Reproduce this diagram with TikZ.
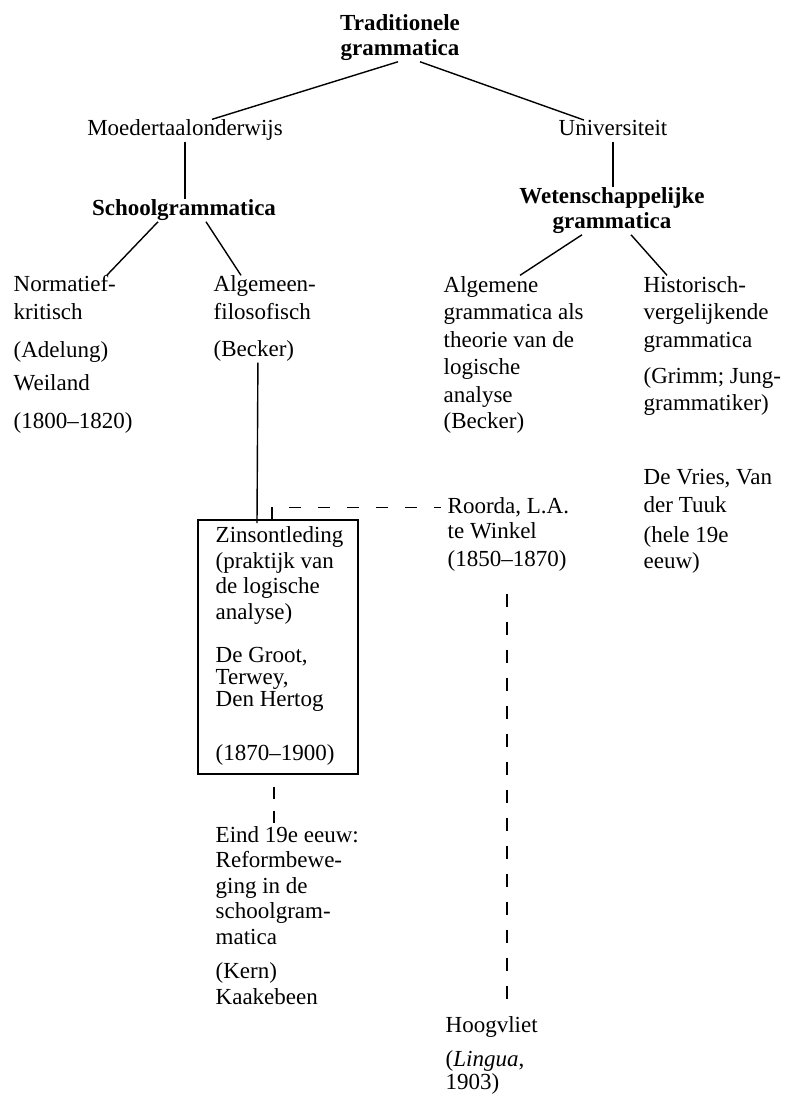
\documentclass[tikz,border=0pt]{standalone}
\usepackage{fontspec}
\setmainfont{Liberation Serif}
\usepackage{tikz}

\begin{document}
\begin{tikzpicture}[x=0.5pt,y=-0.5pt, line width=0.7pt,
    every node/.style={font=\fontsize{11.5pt}{13.75pt}\selectfont, inner sep=0pt, align=left, anchor=base west},
    kop/.style={font=\fontsize{11.5pt}{12.5pt}\selectfont\bfseries, align=center, anchor=base},
    dicht/.style={font=\fontsize{11.5pt}{11pt}\selectfont},
    ruim/.style={font=\fontsize{11.5pt}{12.75pt}\selectfont},
    stippel/.style={dash pattern=on 6.5pt off 7.5pt}]
  \useasboundingbox (0,0) rectangle (787,1096);

  % multi-line nodes sit on the baseline of their last line
  \node[kop] (trad) at (400,56) {Traditionele\\grammatica};
  \node[anchor=base] (moed) at (185,136) {Moedertaalonderwijs};
  \node[anchor=base] (univ) at (613,136) {Universiteit};
  \node[kop] (school) at (184,216) {Schoolgrammatica};
  \node[kop] (wet) at (612,229) {Wetenschappelijke\\grammatica};

  \node (norm) at (13,319.5) {Normatief-\\kritisch};
  \node (adel) at (13,390) {(Adelung)\\[2.75pt]Weiland};
  \node (jaar1) at (13,428) {(1800--1820)};

  \node (alg1) at (213,319.5) {Algemeen-\\filosofisch};
  \node (becker1) at (213,357) {(Becker)};

  \node (alg2) at (443,402) {Algemene\\grammatica als\\theorie van de\\logische\\analyse};
  \node (becker2) at (443,428) {(Becker)};

  \node (hist) at (643,347) {Historisch-\\vergelijkende\\grammatica};
  \node (grimm) at (643,410.5) {(Grimm; Jung-\\grammatiker)};
  \node (vries) at (643,512) {De Vries, Van\\der Tuuk};
  \node[ruim] (hele) at (643,568) {(hele 19e\\eeuw)};

  \node[ruim] (roorda) at (447,538.5) {Roorda, L.A.\\te Winkel};
  \node (jaar3) at (447,566) {(1850--1870)};

  \node[draw, line width=0.9pt, anchor=north west, minimum width=80pt, minimum height=127pt] (kader) at (197,519) {};
  \node[ruim] (zins) at (215,619) {Zinsontleding\\(praktijk van\\de logische\\analyse)};
  \node[dicht] (groot) at (215,706) {De Groot,\\Terwey,\\Den Hertog};
  \node (jaar2) at (215,760) {(1870--1900)};

  \node[ruim] (eind) at (215,944) {Eind 19e eeuw:\\Reformbewe-\\ging in de\\schoolgram-\\matica};
  \node[ruim] (kern) at (215,1004) {(Kern)\\Kaakebeen};

  \node (hoog) at (445,1032) {Hoogvliet};
  \node[dicht] (lingua) at (445,1089) {(\textit{Lingua},\\[0.5pt]1903)};

  \draw ([xshift=-1pt]trad.south) -- ([xshift=13.5pt]moed.north);
  \draw ([xshift=10pt]trad.south) -- ([xshift=-14.5pt]univ.north);
  \draw (moed.south) -- (moed.south |- school.north);
  \draw[shorten <=2.5pt] (univ.south) -- (univ.south |- wet.north);

  \draw ([xshift=-13pt]school.south) -- ([xshift=47pt]norm.north west);
  \draw ([xshift=11pt]school.south) -- ([xshift=14pt]alg1.north west);
  \draw ([xshift=-15pt]wet.south) -- ([xshift=38.5pt]alg2.north west);
  \draw ([xshift=9.5pt]wet.south) -- ([xshift=12pt]hist.north west);

  \draw ([xshift=2pt]becker1.south) -- ([xshift=30pt,yshift=-2pt]kader.north west);
  \draw[dash pattern=on 6pt off 8.5pt] ([xshift=37.5pt]kader.north west) |- ([xshift=-3pt,yshift=-5.5pt]roorda.north west);
  \draw[dash pattern=on 6pt off 6pt, dash phase=6pt] ([xshift=38.5pt]kader.south west) -- ([xshift=29.5pt]eind.north west);
  \draw[stippel, shorten <=11pt, shorten >=2pt] (jaar3.south) -- (jaar3.south |- hoog.north);
\end{tikzpicture}
\end{document}
